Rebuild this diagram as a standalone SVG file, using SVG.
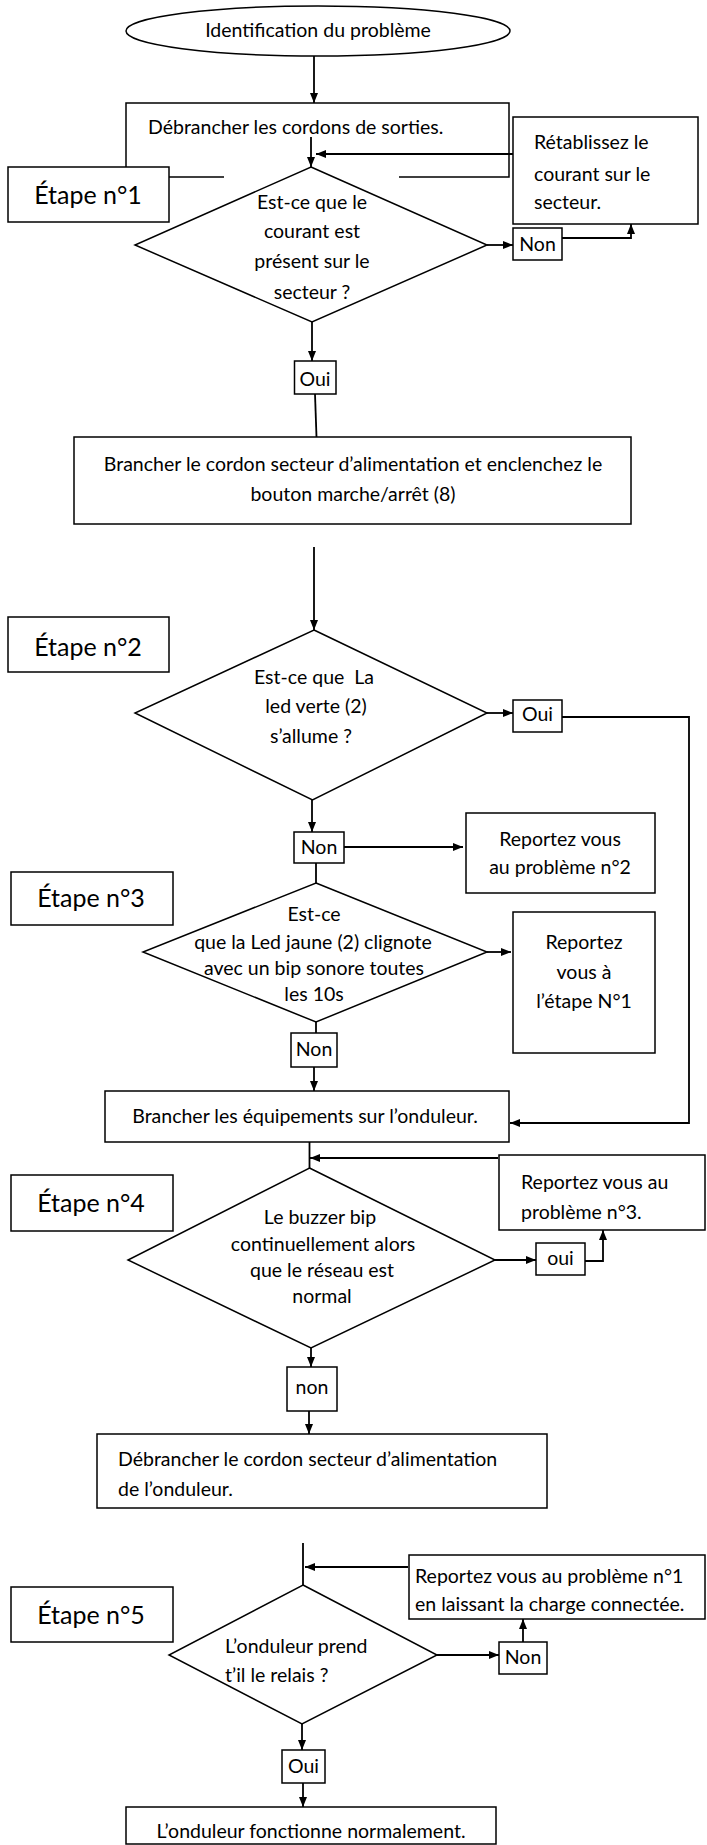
<svg xmlns="http://www.w3.org/2000/svg" width="707" height="1845" viewBox="0 0 707 1845">
<style>
.b{fill:#fff;stroke:#000;stroke-width:1.5}
.t{font-family:Lato,'Liberation Sans',sans-serif;font-size:19.5px;fill:#000}
.c{text-anchor:middle}
.e{font-size:25px}
.l{fill:none;stroke:#000;stroke-width:1.8}
</style>
<defs>
<marker id="a" viewBox="0 0 10 10" refX="10" refY="5" markerWidth="10" markerHeight="10" markerUnits="userSpaceOnUse" orient="auto"><path d="M0,1 L10,5 L0,9 z" fill="#000"/></marker>
</defs>
<rect width="707" height="1845" fill="#fff"/>
<g id="connectors" class="l">
<path d="M314,56 V103" marker-end="url(#a)"/>
<path d="M311,137 V167" marker-end="url(#a)"/>
<path d="M513,154 H316" marker-end="url(#a)"/>
<path d="M487,245 H513" marker-end="url(#a)"/>
<path d="M562,238 H631 V224" marker-end="url(#a)"/>
<path d="M312,322 V361" marker-end="url(#a)"/>
<path d="M315,394 L316.5,437"/>
<path d="M314,547 V630" marker-end="url(#a)"/>
<path d="M487,713 H513" marker-end="url(#a)"/>
<path d="M562,717 H689 V1123 H510" marker-end="url(#a)"/>
<path d="M312,800 V832" marker-end="url(#a)"/>
<path d="M344,847 H463" marker-end="url(#a)"/>
<path d="M316,863 V883"/>
<path d="M487,952 H511" marker-end="url(#a)"/>
<path d="M316,1022 V1033"/>
<path d="M314,1067 V1091" marker-end="url(#a)"/>
<path d="M309.5,1142 V1168"/>
<path d="M498,1158 H310" marker-end="url(#a)"/>
<path d="M495,1260 H536" marker-end="url(#a)"/>
<path d="M585,1261 H603 V1230" marker-end="url(#a)"/>
<path d="M311,1348 V1367" marker-end="url(#a)"/>
<path d="M309,1411 V1434" marker-end="url(#a)"/>
<path d="M303,1543 V1585"/>
<path d="M408,1567 H305" marker-end="url(#a)"/>
<path d="M437,1655 H499" marker-end="url(#a)"/>
<path d="M523,1642 V1619" marker-end="url(#a)"/>
<path d="M302,1724 V1750" marker-end="url(#a)"/>
<path d="M303,1783 V1807" marker-end="url(#a)"/>
</g>
<g id="start"><ellipse class="b" cx="318" cy="31" rx="192" ry="25"/><text class="t c" x="318" y="37">Identification du problème</text></g>
<g id="debrancher-sorties"><path class="b" style="fill:none" d="M224,177 H126 V103 H509 V177 H399"/><text class="t" x="148" y="134">Débrancher les cordons de sorties.</text></g>
<g id="retablissez"><rect class="b" x="513" y="117" width="185" height="107"/><text class="t" x="534" y="149">Rétablissez le</text><text class="t" x="534" y="181">courant sur le</text><text class="t" x="534" y="209">secteur.</text></g>
<g id="etape1"><rect class="b" x="8" y="167" width="161" height="55"/><text class="t c e" x="88" y="204">Étape n°1</text></g>
<g id="q1"><polygon class="b" points="311,167 487,245 312,322 135,245"/><text class="t c" x="312" y="209">Est-ce que le</text><text class="t c" x="312" y="238">courant est</text><text class="t c" x="312" y="268">présent sur le</text><text class="t c" x="312" y="299">secteur ?</text></g>
<g id="non1"><rect class="b" x="513" y="228" width="49" height="32"/><text class="t c" x="537.5" y="251">Non</text></g>
<g id="oui1"><rect class="b" x="294.5" y="361" width="41.5" height="33"/><text class="t c" x="315" y="386">Oui</text></g>
<g id="brancher-secteur"><rect class="b" x="74" y="437" width="557" height="87"/><text class="t c" x="353" y="471">Brancher le cordon secteur d’alimentation et enclenchez le</text><text class="t c" x="353" y="501">bouton marche/arrêt (8)</text></g>
<g id="etape2"><rect class="b" x="8" y="617" width="161" height="55"/><text class="t c e" x="88" y="656">Étape n°2</text></g>
<g id="q2"><polygon class="b" points="314,630 487,713 312.5,800 135,713"/><text class="t c" x="314" y="684" xml:space="preserve">Est-ce que  La</text><text class="t c" x="316" y="713">led verte (2)</text><text class="t c" x="311" y="743">s’allume ?</text></g>
<g id="oui2"><rect class="b" x="513" y="700" width="49" height="32"/><text class="t c" x="537.5" y="721">Oui</text></g>
<g id="non2"><rect class="b" x="294" y="832" width="50" height="31"/><text class="t c" x="319" y="854">Non</text></g>
<g id="probleme2"><rect class="b" x="466" y="813" width="189" height="80"/><text class="t c" x="560" y="846">Reportez vous</text><text class="t c" x="560" y="874">au problème n°2</text></g>
<g id="etape3"><rect class="b" x="11" y="872" width="162" height="53"/><text class="t c e" x="91" y="907">Étape n°3</text></g>
<g id="q3"><polygon class="b" points="316,883 487,952 316,1022 143,952"/><text class="t c" x="314" y="921">Est-ce</text><text class="t c" x="313" y="949">que la Led jaune (2) clignote</text><text class="t c" x="314" y="975">avec un bip sonore toutes</text><text class="t c" x="314" y="1001">les 10s</text></g>
<g id="etape-n1"><rect class="b" x="513" y="912" width="142" height="141"/><text class="t c" x="584" y="949">Reportez</text><text class="t c" x="584" y="979">vous à</text><text class="t c" x="584" y="1008">l’étape N°1</text></g>
<g id="non3"><rect class="b" x="291" y="1033" width="46" height="34"/><text class="t c" x="314" y="1056">Non</text></g>
<g id="brancher-equipements"><rect class="b" x="105" y="1091" width="404" height="51"/><text class="t c" x="305" y="1123">Brancher les équipements sur l’onduleur.</text></g>
<g id="probleme3"><rect class="b" x="499" y="1155" width="206" height="75"/><text class="t" x="521" y="1189">Reportez vous au</text><text class="t" x="521" y="1219">problème n°3.</text></g>
<g id="etape4"><rect class="b" x="11" y="1175" width="162" height="56"/><text class="t c e" x="91" y="1212">Étape n°4</text></g>
<g id="q4"><polygon class="b" points="309.5,1168 495,1260 311,1348 128,1260"/><text class="t c" x="320" y="1224">Le buzzer bip</text><text class="t c" x="323" y="1251">continuellement alors</text><text class="t c" x="322" y="1277">que le réseau est</text><text class="t c" x="322" y="1303">normal</text></g>
<g id="oui4"><rect class="b" x="536" y="1243" width="49" height="32"/><text class="t c" x="560.5" y="1265">oui</text></g>
<g id="non4"><rect class="b" x="287" y="1367" width="50" height="44"/><text class="t c" x="312" y="1394">non</text></g>
<g id="debrancher-cordon"><rect class="b" x="97" y="1434" width="450" height="74"/><text class="t" x="118" y="1466">Débrancher le cordon secteur d’alimentation</text><text class="t" x="118" y="1496">de l’onduleur.</text></g>
<g id="probleme1"><rect class="b" x="409" y="1555" width="296" height="64"/><text class="t" x="415" y="1583">Reportez vous au problème n°1</text><text class="t" x="415" y="1611">en laissant la charge connectée.</text></g>
<g id="etape5"><rect class="b" x="11" y="1587" width="162" height="55"/><text class="t c e" x="91" y="1624">Étape n°5</text></g>
<g id="q5"><polygon class="b" points="303,1585 437,1655 302,1724 169,1655"/><text class="t" x="225" y="1653">L’onduleur prend</text><text class="t" x="225" y="1682">t’il le relais ?</text></g>
<g id="non5"><rect class="b" x="499" y="1642" width="48" height="32"/><text class="t c" x="523" y="1664">Non</text></g>
<g id="oui5"><rect class="b" x="282" y="1750" width="43" height="33"/><text class="t c" x="303.5" y="1773">Oui</text></g>
<g id="fin"><rect class="b" x="126" y="1807" width="370" height="37"/><text class="t c" x="311" y="1838">L’onduleur fonctionne normalement.</text></g>
</svg>
